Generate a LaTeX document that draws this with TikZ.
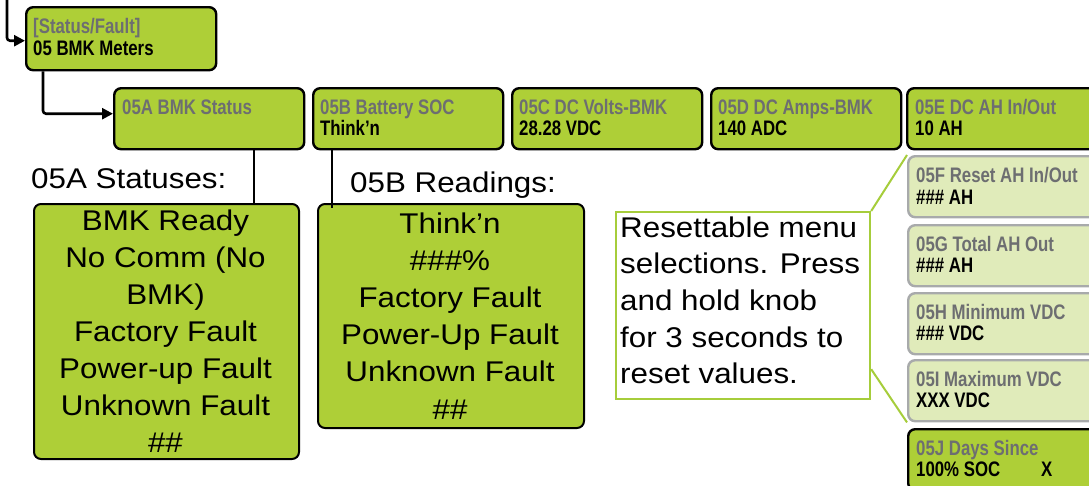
\documentclass[tikz,border=0pt]{standalone}
\usepackage{fontspec}
\usetikzlibrary{arrows.meta,calc}
\newfontfamily\bodyfont[FakeStretch=1.1]{Liberation Sans}
\newfontfamily\menufont[FakeStretch=0.8]{Liberation Sans}
\definecolor{lcdgreen}{HTML}{AECF37}
\definecolor{lcdpale}{HTML}{E0EBBA}
\definecolor{paleedge}{HTML}{A8AAAB}
\definecolor{titlegray}{HTML}{6D6E71}
\definecolor{calloutgreen}{HTML}{A6CD3B}

\begin{document}
\begin{tikzpicture}[x=1pt,y=-1pt,
  menubox/.style={draw=black, line width=2.4pt, fill=lcdgreen, rounded corners=7pt,
    minimum width=190pt, minimum height=61pt, anchor=north west, inner sep=0pt},
  palebox/.style={menubox, draw=paleedge, fill=lcdpale},
  listbox/.style={draw=black, line width=2pt, fill=lcdgreen, rounded corners=7pt,
    anchor=north west, inner sep=0pt},
  menutitle/.style={anchor=base west, inner sep=0pt, text=titlegray,
    font={\menufont\bfseries\fontsize{21}{21}\selectfont}},
  menuvalue/.style={anchor=base west, inner sep=0pt, text=black,
    font={\menufont\bfseries\fontsize{21}{21}\selectfont}},
  bigtext/.style={inner sep=0pt, font={\bodyfont\fontsize{28.5}{37}\selectfont}},
  flow/.style={line width=2.6pt, rounded corners=3pt, -{Triangle[length=11pt,width=11pt]}},
  tie/.style={line width=1.3pt},
  callline/.style={draw=calloutgreen, line width=2pt},
]
\useasboundingbox (0,0) rectangle (1089,485);
\fill[white] (0,0) rectangle (1089,485);
\clip (0,0) rectangle (1089,485);

% callout frame
\node[draw=calloutgreen, line width=2.2pt, fill=white, minimum width=254pt,
  minimum height=187pt, anchor=north west, inner sep=0pt] (note) at (615,211) {};

% menu boxes
\node[menubox, minimum height=63pt] (m05) at (25,6) {};
\node[menubox] (m5a) at (113,87) {};
\node[menubox] (m5b) at (312,87) {};
\node[menubox] (m5c) at (511,87) {};
\node[menubox] (m5d) at (710,87) {};
\node[menubox] (m5e) at (906,87) {};
\node[palebox] (m5f) at (907,155) {};
\node[palebox] (m5g) at (907,224) {};
\node[palebox] (m5h) at (907,292) {};
\node[palebox] (m5i) at (907,359) {};
\node[menubox] (m5j) at (907,428) {};

% callout leader lines
\draw[callline] (note.north east) -- (m5f.north west);
\draw[callline] ($(note.south east)+(0,-31)$) -- (m5i.south west);

% menu texts
\node[menutitle] (t05) at ($(m05.north west)+(8,27)$) {[Status/Fault]};
\node[menuvalue] (v05) at ($(m05.north west)+(8,49)$) {05 BMK Meters};
\node[menutitle] (t5a) at ($(m5a.north west)+(9,27)$) {05A BMK Status};
\node[menutitle] (t5b) at ($(m5b.north west)+(8,27)$) {05B Battery SOC};
\node[menuvalue] (v5b) at ($(m5b.north west)+(8,48)$) {Think’n};
\node[menutitle] (t5c) at ($(m5c.north west)+(8,27)$) {05C DC Volts-BMK};
\node[menuvalue] (v5c) at ($(m5c.north west)+(8,48)$) {28.28 VDC};
\node[menutitle] (t5d) at ($(m5d.north west)+(8,27)$) {05D DC Amps-BMK};
\node[menuvalue] (v5d) at ($(m5d.north west)+(8,48)$) {140 ADC};
\node[menutitle] (t5e) at ($(m5e.north west)+(9,27)$) {05E DC AH In/Out};
\node[menuvalue] (v5e) at ($(m5e.north west)+(9,48)$) {10 AH};
\node[menutitle] (t5f) at ($(m5f.north west)+(9,27)$) {05F Reset AH In/Out};
\node[menuvalue] (v5f) at ($(m5f.north west)+(9,49)$) {\#\#\# AH};
\node[menutitle] (t5g) at ($(m5g.north west)+(9,27)$) {05G Total AH Out};
\node[menuvalue] (v5g) at ($(m5g.north west)+(9,48)$) {\#\#\# AH};
\node[menutitle] (t5h) at ($(m5h.north west)+(9,27)$) {05H Minimum VDC};
\node[menuvalue] (v5h) at ($(m5h.north west)+(9,48)$) {\#\#\# VDC};
\node[menutitle] (t5i) at ($(m5i.north west)+(9,27)$) {05I Maximum VDC};
\node[menuvalue] (v5i) at ($(m5i.north west)+(9,48)$) {XXX VDC};
\node[menutitle] (t5j) at ($(m5j.north west)+(9,27)$) {05J Days Since};
\node[menuvalue] (v5j) at ($(m5j.north west)+(9,48)$) {100\% SOC\hspace{41pt}X};

% flow arrows
\coordinate (feed) at (7,0);
\coordinate (drop) at (43,0);
\draw[flow] (feed) |- ($(m05.west)+(0,2)$);
\draw[flow] (m05.south -| drop) |- ($(m5a.west)+(0,-5)$);

% status and reading lists
\node[listbox, minimum width=265pt, minimum height=255pt] (lista) at (33,203) {};
\node[listbox, minimum width=266pt, minimum height=224pt] (listb) at (317,203) {};
\coordinate (ja) at (254,0);
\coordinate (jb) at (332,0);
\draw[tie] (m5a.south -| ja) -- (lista.north -| ja);
\draw[tie] (m5b.south -| jb) -- ($(listb.north -| jb)+(0,5)$);

\node[bigtext, anchor=base west] (la) at (31,188) {05A Statuses:};
\node[bigtext, anchor=base west] (lb) at (350,192) {05B Readings:};

\foreach \t [count=\i from 0] in {BMK Ready, No Comm (No, BMK), Factory Fault,
    Power-up Fault, Unknown Fault, \#\#}
  \node[bigtext, anchor=base] (sa\i) at (165.5, {230+37*\i}) {\t};
\foreach \t [count=\i from 0] in {Think’n, \#\#\#\%, Factory Fault,
    Power-Up Fault, Unknown Fault, \#\#}
  \node[bigtext, anchor=base] (sb\i) at (450, {233+37.2*\i}) {\t};

% callout text
\foreach \t [count=\i from 0] in {Resettable menu, selections. Press, and hold knob,
    for 3 seconds to, reset values.}
  \node[bigtext, anchor=base west] (cl\i) at (620, {237+36.7*\i}) {\t};
\end{tikzpicture}
\end{document}
